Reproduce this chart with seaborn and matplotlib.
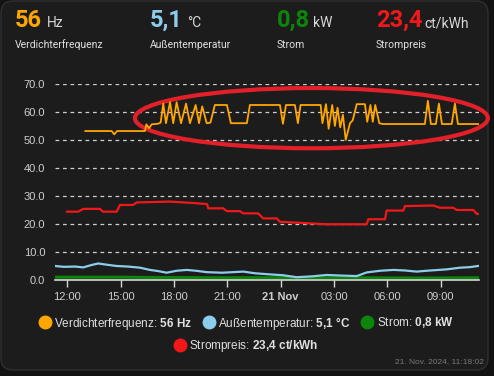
import matplotlib
matplotlib.use('Agg')
import matplotlib.pyplot as plt
import seaborn as sns
from matplotlib.lines import Line2D
from matplotlib.patches import Ellipse, FancyBboxPatch
from matplotlib.transforms import IdentityTransform

# time axis: hours since 20 Nov 2024 00:00 (24 = 21 Nov 00:00)
freq_t = [13.0, 14.5, 14.64, 14.8, 16.37, 16.45, 16.6, 16.75, 17.1, 17.25,
          17.40, 17.55, 17.78, 17.96, 18.15, 18.40, 18.68, 18.90, 19.22, 19.41,
          19.59, 19.84, 20.05, 20.30, 20.98, 21.20, 22.10, 22.27, 23.96, 24.13,
          24.30, 24.80, 24.97, 25.12, 26.25, 26.35, 26.55, 26.70, 26.90, 27.05,
          27.20, 27.35, 27.50, 27.66, 27.90, 28.05, 28.28, 28.74, 28.87, 29.05,
          29.18, 29.32, 29.55, 29.75, 32.11, 32.28, 32.45, 32.73, 32.90, 33.07,
          33.62, 33.80, 33.97, 35.2]
freq_v = [53.2, 53.2, 52.0, 53.2, 53.2, 55.6, 54.2, 55.6, 55.8, 56.2,
          63.0, 56.0, 63.5, 56.0, 63.5, 56.0, 63.0, 56.0, 62.5, 56.0,
          62.0, 56.0, 56.2, 62.5, 62.5, 56.0, 56.0, 62.5, 62.5, 55.8,
          62.5, 62.5, 56.0, 62.5, 62.5, 56.0, 62.8, 54.0, 62.5, 55.0,
          61.5, 54.5, 59.0, 50.0, 56.0, 57.0, 62.8, 62.8, 56.5, 62.5,
          56.5, 62.5, 56.0, 55.7, 55.7, 64.0, 55.7, 55.7, 63.0, 55.7,
          55.7, 63.0, 55.7, 55.7]

temp_t = [11.31, 11.81, 12.43, 12.90, 13.39, 13.74, 14.18, 14.78, 15.41, 16.09,
          16.65, 17.10, 17.59, 18.15, 18.72, 19.24, 19.84, 20.70, 21.90, 22.56,
          23.40, 24.13, 24.90, 25.76, 26.59, 27.34, 28.28, 28.84, 29.59, 30.34,
          30.99, 31.65, 32.21, 33.34, 34.09, 34.65, 35.2]
temp_v = [5.0, 4.7, 4.8, 4.5, 5.4, 5.9, 5.5, 5.0, 4.8, 4.4,
          3.6, 3.2, 2.6, 3.3, 3.6, 3.3, 2.8, 2.6, 3.0, 2.4,
          2.0, 1.7, 1.0, 1.3, 1.8, 1.6, 1.4, 2.7, 3.3, 3.6,
          3.4, 3.0, 3.3, 3.8, 4.4, 4.6, 5.1]

power_t = [11.31, 15.0, 17.0, 20.0, 24.0, 28.0, 32.0, 35.2]
power_v = [1.0, 1.0, 0.9, 0.8, 0.8, 0.8, 0.7, 0.8]

price_t = [11.97, 12.62, 12.90, 13.84, 14.01, 14.78, 14.96, 15.71, 15.90, 17.78,
           19.09, 19.86, 19.93, 20.77, 20.97, 21.71, 21.88, 22.73, 23.02, 23.78,
           23.96, 26.59, 28.84, 28.93, 29.87, 29.96, 30.90, 30.99, 32.58, 32.96,
           33.71, 33.90, 34.84, 35.03, 35.2]
price_v = [24.4, 24.4, 25.4, 25.4, 24.4, 24.4, 26.8, 26.8, 27.7, 28.0,
           27.5, 27.1, 25.6, 25.6, 24.6, 24.6, 23.8, 23.8, 22.0, 22.0,
           20.8, 19.9, 19.9, 21.7, 21.7, 24.8, 24.8, 26.4, 26.6, 25.8,
           25.8, 25.0, 25.0, 23.6, 23.6]

xtick_pos = [12, 15, 18, 21, 24, 27, 30, 33]
xtick_labels = ['12:00', '15:00', '18:00', '21:00', '21 Nov', '03:00', '06:00', '09:00']
yticks = [0, 10, 20, 30, 40, 50, 60, 70]

ORANGE, BLUE, GREEN, RED = '#FFA600', '#8CCDEB', '#0B860B', '#F01818'
BG = '#1c1c1c'
W, H = 494, 376

sns.set_style('dark', {'axes.facecolor': BG, 'figure.facecolor': '#121212'})
plt.rcParams['font.family'] = ['Liberation Sans', 'DejaVu Sans']
plt.rcParams['mathtext.fontset'] = 'custom'
plt.rcParams['mathtext.rm'] = 'Liberation Sans'
plt.rcParams['mathtext.bf'] = 'Liberation Sans:bold'

fig = plt.figure(figsize=(W / 100, H / 100), dpi=100)
card = FancyBboxPatch((1, 6), 487, 369, boxstyle='round,pad=0,rounding_size=12',
                      transform=IdentityTransform(), fc=BG, ec='#303030', lw=1, zorder=-10)
fig.patches.append(card)

ax = fig.add_axes([55 / W, 1 - 280 / H, (479 - 55) / W, (280 - 84) / H])
ax.set_facecolor(BG)

sns.lineplot(x=power_t, y=power_v, ax=ax, color=GREEN, lw=2.2, estimator=None, sort=False)
sns.lineplot(x=temp_t, y=temp_v, ax=ax, color=BLUE, lw=1.6, estimator=None, sort=False)
sns.lineplot(x=price_t, y=price_v, ax=ax, color=RED, lw=1.6, estimator=None, sort=False)
sns.lineplot(x=freq_t, y=freq_v, ax=ax, color=ORANGE, lw=1.3, estimator=None, sort=False)

ax.set_xlim(11.31, 35.155)
ax.set_ylim(0, 70)
ax.set_yticks(yticks)
ax.set_yticklabels([f'{v:.1f}' for v in yticks])
ax.set_xticks(xtick_pos)
ax.set_xticklabels(xtick_labels)
for lbl in ax.get_xticklabels():
    if lbl.get_text() == '21 Nov':
        lbl.set_fontweight('bold')
ax.yaxis.grid(True, color='#cfcfcf', ls=(0, (3, 3)), lw=0.9)
ax.xaxis.grid(False)
for s in ['top', 'right', 'left']:
    ax.spines[s].set_visible(False)
ax.spines['bottom'].set_color('#d8d8d8')
ax.spines['bottom'].set_linewidth(1.2)
ax.tick_params(axis='y', left=False, length=0, pad=7, labelsize=8, labelcolor='#cfcfcf')
ax.tick_params(axis='x', bottom=True, length=5, width=1, color='#d8d8d8', pad=4,
               labelsize=8, labelcolor='#cfcfcf')
ax.set_xlabel('')
ax.set_ylabel('')

# hand-drawn red marker around the frequency series
ax.add_patch(Ellipse((25.73, 57.8), width=19.85, height=21.5, fill=False,
                     ec='#E3202A', lw=3, clip_on=False))

# header values
head = [('56', 'Hz', 'Verdichterfrequenz', ORANGE, 15, 47),
        ('5,1', '°C', 'Außentemperatur', BLUE, 150, 187),
        ('0,8', 'kW', 'Strom', GREEN, 277, 313),
        ('23,4', 'ct/kWh', 'Strompreis', RED, 376, 424)]
for num, unit, name, col, x0, xu in head:
    fig.text(x0 / W, 1 - 27 / H, num, color=col, fontsize=17, va='baseline',
             family='Roboto', fontweight='bold')
    fig.text(xu / W, 1 - 27 / H, unit, color='#d8d8d8', fontsize=10, va='baseline', family='Roboto')
    fig.text(x0 / W, 1 - 48 / H, name, color='#e0e0e0', fontsize=7.5, va='baseline', family='Roboto')

def dot(c):
    return Line2D([], [], ls='', marker='o', ms=9, color=c)

fig.legend(handles=[dot(ORANGE), dot(BLUE), dot(GREEN)],
           labels=[r'Verdichterfrequenz: $\mathbf{56}$ $\mathbf{Hz}$',
                   r'Außentemperatur: $\mathbf{5{,}1}$ $\mathbf{°C}$',
                   r'Strom: $\mathbf{0{,}8}$ $\mathbf{kW}$'],
           loc='center', bbox_to_anchor=(0.5, 1 - 323 / H), ncol=3, frameon=False,
           fontsize=8.5, labelcolor='#e0e0e0', handlelength=0.8, handletextpad=0.4,
           columnspacing=1.0, borderaxespad=0, borderpad=0)
fig.legend(handles=[dot(RED)], labels=[r'Strompreis: $\mathbf{23{,}4}$ $\mathbf{ct/kWh}$'],
           loc='center', bbox_to_anchor=(0.5, 1 - 346 / H), frameon=False,
           fontsize=8.5, labelcolor='#e0e0e0', handlelength=0.8, handletextpad=0.4,
           borderaxespad=0, borderpad=0)

fig.text(484 / W, 1 - 362 / H, '21. Nov. 2024, 11:18:02', ha='right', va='center',
         fontsize=6, color='#7a7a7a')

fig.savefig('out.png', dpi=100, facecolor=fig.get_facecolor())
